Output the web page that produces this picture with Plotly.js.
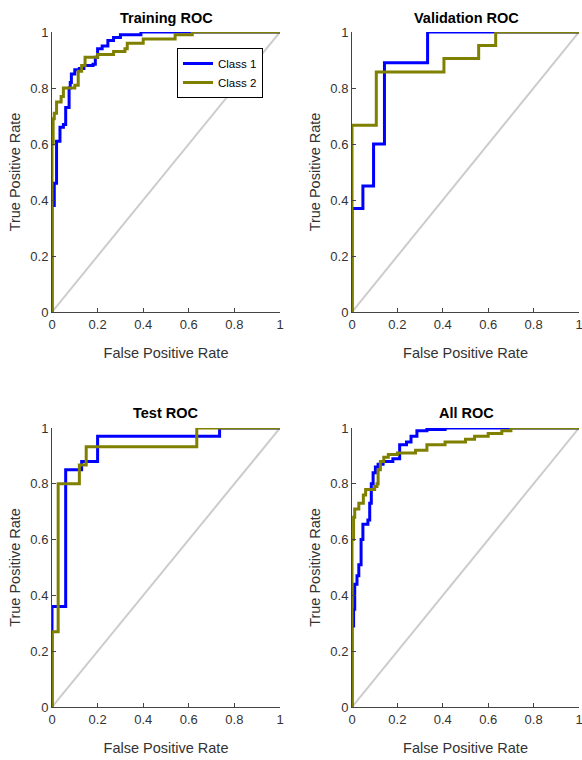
<!DOCTYPE html>
<html>
<head>
<meta charset="utf-8">
<script src="https://cdn.plot.ly/plotly-3.0.1.min.js"></script>
<style>html,body{margin:0;padding:0;background:#fff;}#chart{width:582px;height:760px;}</style>
</head>
<body>
<div id="chart"></div>
<script>
// Step-curve corner points (x = false positive rate at which the step happens, y = new true positive rate)
const trainC1_fpr = [0,0,0.01,0.02,0.035,0.05,0.06,0.075,0.08,0.085,0.1,0.12,0.14,0.18,0.19,0.2,0.22,0.245,0.27,0.3,0.39,1];
const trainC1_tpr = [0,0.38,0.46,0.61,0.66,0.67,0.73,0.80,0.82,0.85,0.865,0.87,0.88,0.885,0.91,0.94,0.95,0.97,0.98,0.99,1,1];
const trainC2_fpr = [0,0,0.005,0.01,0.02,0.04,0.05,0.1,0.115,0.13,0.145,0.2,0.27,0.32,0.33,0.4,0.54,0.615,1];
const trainC2_tpr = [0,0.6,0.69,0.71,0.75,0.77,0.8,0.81,0.86,0.88,0.91,0.92,0.93,0.94,0.96,0.975,0.99,1,1];

const valC1_fpr = [0,0,0.048,0.095,0.143,0.333,1];
const valC1_tpr = [0,0.37,0.45,0.6,0.89,1,1];
const valC2_fpr = [0,0,0.107,0.405,0.558,0.633,1];
const valC2_tpr = [0,0.667,0.857,0.905,0.952,1,1];

const testC1_fpr = [0,0,0.06,0.13,0.2,0.735,1];
const testC1_tpr = [0,0.36,0.85,0.88,0.97,1,1];
const testC2_fpr = [0,0,0.027,0.12,0.15,0.635,1];
const testC2_tpr = [0,0.27,0.8,0.867,0.933,1,1];

const allC1_fpr = [0,0,0.007,0.012,0.022,0.03,0.04,0.048,0.07,0.078,0.085,0.093,0.103,0.115,0.137,0.18,0.21,0.24,0.26,0.286,0.33,0.41,1];
const allC1_tpr = [0,0.29,0.35,0.44,0.47,0.51,0.6,0.655,0.67,0.73,0.8,0.84,0.86,0.87,0.88,0.89,0.94,0.95,0.97,0.99,0.995,1,1];
const allC2_fpr = [0,0,0.007,0.012,0.03,0.05,0.06,0.1,0.11,0.115,0.125,0.14,0.16,0.2,0.28,0.33,0.41,0.5,0.54,0.6,0.66,0.7,1];
const allC2_tpr = [0,0.6,0.68,0.71,0.73,0.76,0.78,0.79,0.8,0.85,0.88,0.895,0.905,0.91,0.92,0.94,0.95,0.96,0.97,0.98,0.99,1,1];

const diag = [0,1];
const panelTitles = ['Training ROC','Validation ROC','Test ROC','All ROC'];
const classNames = ['Class 1','Class 2'];
const tickVals = [0,0.2,0.4,0.6,0.8,1];
const tickText = ['0','0.2','0.4','0.6','0.8','1'];

const panels = [
  [trainC1_fpr, trainC1_tpr, trainC2_fpr, trainC2_tpr],
  [valC1_fpr, valC1_tpr, valC2_fpr, valC2_tpr],
  [testC1_fpr, testC1_tpr, testC2_fpr, testC2_tpr],
  [allC1_fpr, allC1_tpr, allC2_fpr, allC2_tpr]
];

const BLUE = '#0000ff', OLIVE = '#808000', GREY = '#cccccc';
const FONT = 'Liberation Sans, Arial, sans-serif';
const TXT = '#333333';

const traces = [];
panels.forEach((p, i) => {
  const xa = i === 0 ? 'x' : 'x' + (i + 1);
  const ya = i === 0 ? 'y' : 'y' + (i + 1);
  traces.push({x: diag, y: diag, xaxis: xa, yaxis: ya, mode: 'lines',
    line: {color: GREY, width: 2}, showlegend: false, hoverinfo: 'skip', cliponaxis: false});
  traces.push({x: p[0], y: p[1], xaxis: xa, yaxis: ya, mode: 'lines', name: classNames[0],
    line: {color: BLUE, width: 3, shape: 'hv'}, showlegend: i === 0, legendgroup: 'c1', cliponaxis: false});
  traces.push({x: p[2], y: p[3], xaxis: xa, yaxis: ya, mode: 'lines', name: classNames[1],
    line: {color: OLIVE, width: 3, shape: 'hv'}, showlegend: i === 0, legendgroup: 'c2', cliponaxis: false});
});

const W = 582, H = 760;
const xDomL = [52 / W, 280 / W], xDomR = [352 / W, 579 / W];
const yDomT = [(H - 312) / H, (H - 32) / H], yDomB = [(H - 707) / H, (H - 428) / H];

function xax(dom, anchor) {
  return {domain: dom, anchor: anchor, range: [0, 1], tickvals: tickVals, ticktext: tickText,
    ticks: 'inside', ticklen: 4, tickcolor: '#444', tickwidth: 1,
    showline: true, linecolor: '#444', linewidth: 1, mirror: false,
    showgrid: false, zeroline: false, fixedrange: true, ticklabeloverflow: 'allow',
    tickfont: {family: FONT, size: 13, color: TXT},
    title: {text: 'False Positive Rate', font: {family: FONT, size: 14.5, color: TXT}, standoff: 17}};
}
function yax(dom, anchor) {
  return {domain: dom, anchor: anchor, range: [0, 1], tickvals: tickVals, ticktext: tickText,
    ticks: 'inside', ticklen: 4, tickcolor: '#444', tickwidth: 1,
    showline: true, linecolor: '#444', linewidth: 1, mirror: false,
    showgrid: false, zeroline: false, fixedrange: true, ticklabeloverflow: 'allow',
    tickfont: {family: FONT, size: 13, color: TXT},
    title: {text: 'True Positive Rate', font: {family: FONT, size: 14.5, color: TXT}, standoff: 6}};
}

const titlePos = [[166, 18], [466, 18], [166, 413], [466, 413]];
const annotations = panelTitles.map((t, i) => ({
  text: '<b>' + t + '</b>', xref: 'paper', yref: 'paper',
  x: titlePos[i][0] / W, y: (H - titlePos[i][1]) / H, xanchor: 'center', yanchor: 'middle',
  showarrow: false, font: {family: FONT, size: 14.5, color: '#000'}
}));

const layout = {
  width: W, height: H, margin: {l: 0, r: 0, t: 0, b: 0},
  paper_bgcolor: '#fff', plot_bgcolor: '#fff',
  font: {family: FONT},
  xaxis: xax(xDomL, 'y'), yaxis: yax(yDomT, 'x'),
  xaxis2: xax(xDomR, 'y2'), yaxis2: yax(yDomT, 'x2'),
  xaxis3: xax(xDomL, 'y3'), yaxis3: yax(yDomB, 'x3'),
  xaxis4: xax(xDomR, 'y4'), yaxis4: yax(yDomB, 'x4'),
  legend: {x: 177 / W, y: (H - 48) / H, xanchor: 'left', yanchor: 'top',
    bgcolor: '#fff', bordercolor: '#000', borderwidth: 1,
    font: {family: FONT, size: 11.5, color: '#000'}, tracegroupgap: 0, itemwidth: 30},
  annotations: annotations,
  showlegend: true
};

Plotly.newPlot('chart', traces, layout, {displayModeBar: false, staticPlot: true});
</script>
</body>
</html>
